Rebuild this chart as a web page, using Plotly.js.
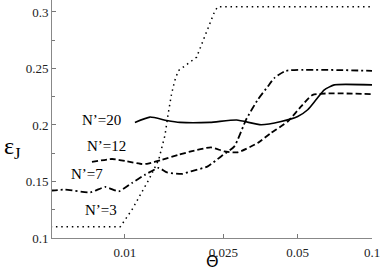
<!DOCTYPE html>
<html>
<head>
<meta charset="utf-8">
<script src="https://cdn.plot.ly/plotly-3.0.1.min.js"></script>
<style>html,body{margin:0;padding:0;background:#fff;}#chart{width:382px;height:271px;}</style>
</head>
<body>
<div id="chart"></div>
<script>
// N'=3 (dotted)
const theta3 = [0.005, 0.00957, 0.01067, 0.01248, 0.01368, 0.01452, 0.01496, 0.01545, 0.01592, 0.01644, 0.01804, 0.0195, 0.02074, 0.02208, 0.02312, 0.0238, 0.1];
const eps3   = [0.1100, 0.1100, 0.1250, 0.1515, 0.1690, 0.1910, 0.2100, 0.2280, 0.2395, 0.2480, 0.2545, 0.2600, 0.2750, 0.2900, 0.3010, 0.3047, 0.3047];
// N'=7 (dash-dot)
const theta7 = [0.005, 0.00572, 0.00724, 0.00832, 0.00943, 0.01067, 0.01208, 0.01369, 0.01479, 0.01702, 0.0185, 0.02163, 0.02449, 0.02773, 0.0309, 0.03446, 0.03784, 0.04022, 0.04484, 0.1];
const eps7   = [0.1419, 0.1428, 0.1404, 0.1452, 0.1413, 0.1487, 0.1561, 0.1620, 0.1581, 0.1567, 0.1590, 0.1634, 0.1722, 0.1811, 0.2046, 0.2223, 0.2340, 0.2415, 0.2479, 0.2479];
// N'=12 (dashed)
const theta12 = [0.00735, 0.00886, 0.01019, 0.01172, 0.0124, 0.01412, 0.01649, 0.0185, 0.02229, 0.02523, 0.02858, 0.03446, 0.03899, 0.04559, 0.05163, 0.05755, 0.1];
const eps12   = [0.1673, 0.1699, 0.1678, 0.1655, 0.1658, 0.1693, 0.1737, 0.1766, 0.1802, 0.1766, 0.1758, 0.1841, 0.1929, 0.2031, 0.2164, 0.2267, 0.2273];
// N'=20 (solid)
const theta20 = [0.01097, 0.01262, 0.01475, 0.0167, 0.02208, 0.02831, 0.03555, 0.04285, 0.05002, 0.05492, 0.05933, 0.06412, 0.07035, 0.1];
const eps20   = [0.2023, 0.2070, 0.2040, 0.2023, 0.2023, 0.2044, 0.2002, 0.2031, 0.2075, 0.2135, 0.2223, 0.2311, 0.2355, 0.2355];

const xTickVals = [0.01, 0.025, 0.05, 0.1];
const xTickText = ['0.01', '0.025', '0.05', '0.1'];
const yTickVals = [0.1, 0.15, 0.2, 0.25, 0.3];
const yTickText = ['0.1', '0.15', '0.2', '0.25', '0.3'];
const seriesLabels = ["N\u2019=20", "N\u2019=12", "N\u2019=7", "N\u2019=3"];

const serif = 'Times New Roman';
const traces = [
  {x: theta3, y: eps3, mode: 'lines', line: {color: '#000', width: 1.5, dash: '1.5px,3.8px'}, name: seriesLabels[3]},
  {x: theta7, y: eps7, mode: 'lines', line: {color: '#000', width: 1.8, dash: '7px,3px,2px,3px', shape: 'spline', smoothing: 0.5}, name: seriesLabels[2]},
  {x: theta12, y: eps12, mode: 'lines', line: {color: '#000', width: 1.8, dash: '6px,3px', shape: 'spline', smoothing: 0.5}, name: seriesLabels[1]},
  {x: theta20, y: eps20, mode: 'lines', line: {color: '#000', width: 1.6, shape: 'spline', smoothing: 0.5}, name: seriesLabels[0]}
];

const lblFont = {family: serif, size: 15, color: '#000'};
const layout = {
  width: 382, height: 271,
  margin: {l: 52, r: 10, t: 0, b: 32.5},
  paper_bgcolor: '#fff', plot_bgcolor: '#fff',
  showlegend: false,
  font: {family: serif},
  xaxis: {
    type: 'log', range: [-2.2955, -1],
    tickvals: xTickVals, ticktext: xTickText,
    ticks: 'inside', ticklen: 4, tickcolor: '#777', tickwidth: 1,
    ticklabelstandoff: 2,
    showline: true, linecolor: '#888', linewidth: 1,
    showgrid: false, zeroline: false,
    tickfont: {family: serif, size: 13, color: '#222'}
  },
  yaxis: {
    range: [0.1, 0.3106],
    tickvals: yTickVals, ticktext: yTickText,
    ticks: 'inside', ticklen: 4, tickcolor: '#777', tickwidth: 1,
    minor: {tickvals: [0.125, 0.175, 0.225, 0.275], ticks: 'inside', ticklen: 3, tickcolor: '#777', showgrid: false},
    showline: true, linecolor: '#888', linewidth: 1,
    showgrid: false, zeroline: false,
    tickfont: {family: serif, size: 13, color: '#222'}
  },
  annotations: [
    {text: seriesLabels[0], xref: 'paper', yref: 'paper', x: 0.156, y: 0.497, showarrow: false, font: lblFont, xanchor: 'center', yanchor: 'middle'},
    {text: seriesLabels[1], xref: 'paper', yref: 'paper', x: 0.169, y: 0.388, showarrow: false, font: lblFont, xanchor: 'center', yanchor: 'middle'},
    {text: seriesLabels[2], xref: 'paper', yref: 'paper', x: 0.109, y: 0.268, showarrow: false, font: lblFont, xanchor: 'center', yanchor: 'middle'},
    {text: seriesLabels[3], xref: 'paper', yref: 'paper', x: 0.153, y: 0.117, showarrow: false, font: lblFont, xanchor: 'center', yanchor: 'middle'},
    {text: '\u0398', xref: 'paper', yref: 'paper', x: 0.5, y: -0.1, showarrow: false, font: {family: 'DejaVu Sans', size: 16, color: '#000'}, xanchor: 'center', yanchor: 'middle'},
    {text: '\u03b5<sub>J</sub>', xref: 'paper', yref: 'paper', x: -0.156, y: 0.38, showarrow: false, font: {family: serif, size: 24, color: '#000'}, xanchor: 'left', yanchor: 'middle'}
  ]
};

Plotly.newPlot('chart', traces, layout, {staticPlot: true, displayModeBar: false});
</script>
</body>
</html>
